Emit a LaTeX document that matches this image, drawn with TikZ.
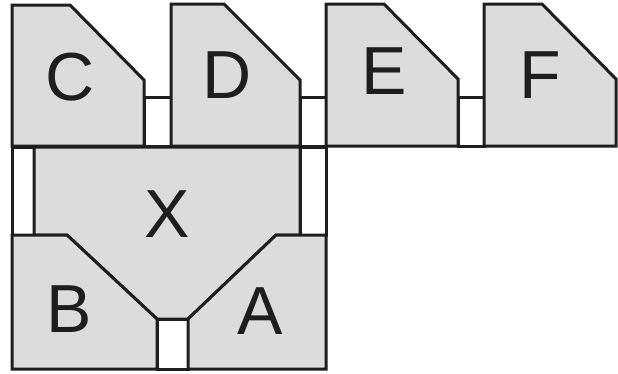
\documentclass[tikz,border=0pt]{standalone}
\usepackage{fontspec}
\setmainfont{Liberation Sans}
\usetikzlibrary{positioning}
\definecolor{roomgray}{HTML}{DCDCDC}
\definecolor{wallink}{HTML}{1E1E1E}

\begin{document}
\begin{tikzpicture}[
  x=1pt, y=-1pt,
  room/.style={fill=roomgray, draw=wallink, line width=3pt, line join=miter},
  gap/.style={fill=white, draw=wallink, line width=3pt},
  lbl/.style={font=\fontsize{68}{68}\selectfont, text=wallink, inner sep=0pt}
]
  \useasboundingbox (0,0) rectangle (618,373);

  % Passaggi tra le stanze
  \draw[gap] (144,97) rectangle (171,146);
  \draw[gap] (300,97) rectangle (326,146);
  \draw[gap] (458,97) rectangle (484,146);
  \draw[gap] (12,147) rectangle (34,235);
  \draw[gap] (300,147) rectangle (326,235);
  \draw[gap] (157,319) rectangle (188,369);

  % Stanze in alto
  \draw[room] (12,5) -- (70,5) -- (144,80) -- (144,146) -- (12,146) -- cycle;
  \draw[room] (171,4) -- (224,4) -- (300,80) -- (300,146) -- (171,146) -- cycle;
  \draw[room] (326,4) -- (384,4) -- (458,79) -- (458,146) -- (326,146) -- cycle;
  \draw[room] (484,4) -- (542,4) -- (616,79) -- (616,146) -- (484,146) -- cycle;

  % Stanze in basso
  \draw[room] (34,147) -- (300,147) -- (300,235) -- (276,235) -- (188,319)
    -- (157,319) -- (67,235) -- (34,235) -- cycle;
  \draw[room] (12,235) -- (67,235) -- (157,319) -- (157,369) -- (12,369) -- cycle;
  \draw[room] (188,319) -- (276,235) -- (326,235) -- (326,369) -- (188,369) -- cycle;

  % Etichette
  \node[lbl] (C) at (70,77) {C};
  \node[lbl] (D) at (227,75) {D};
  \node[lbl] (E) at (384,71) {E};
  \node[lbl] (F) at (540,75) {F};
  \node[lbl] (X) at (167,214) {X};
  \node[lbl] (B) at (69,309) {B};
  \node[lbl] (A) at (260,311) {A};
\end{tikzpicture}
\end{document}
